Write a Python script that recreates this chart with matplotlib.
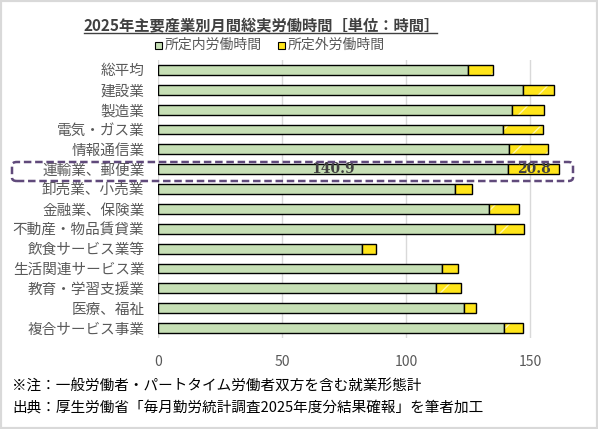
import numpy as np
import matplotlib.pyplot as plt
from matplotlib.patches import FancyBboxPatch, Rectangle
from matplotlib.lines import Line2D

plt.rcParams['font.family'] = ['Noto Sans CJK JP', 'DejaVu Sans']

industries = ['総平均', '建設業', '製造業', '電気・ガス業', '情報通信業',
              '運輸業、郵便業', '卸売業、小売業', '金融業、保険業',
              '不動産・物品賃貸業', '飲食サービス業等', '生活関連サービス業',
              '教育・学習支援業', '医療、福祉', '複合サービス事業']
scheduled = [125.0, 147.2, 142.5, 139.1, 141.5, 140.9, 119.8,
             133.2, 135.9, 82.3, 114.5, 112.1, 123.4, 139.5]
overtime = [10.1, 12.5, 13.1, 16.1, 15.8, 20.8, 6.7,
            12.4, 11.7, 5.3, 6.5, 10.1, 4.8, 7.7]
xticks = [0, 50, 100, 150]

green = '#C6DFB5'
yellow = '#FFE51A'
gray = '#595959'

fig = plt.figure(figsize=(5.98, 4.29), dpi=100)
ax = fig.add_axes([0.2647, 0.2121, 0.705, 0.648])

y = np.arange(len(industries))
h = 0.5
ax.barh(y, scheduled, height=h, color=green, edgecolor='black', linewidth=1, zorder=3)
ax.barh(y, overtime, left=scheduled, height=h, color=yellow, edgecolor='#FFF6A8',
        linewidth=0, hatch='/', zorder=3)
ax.barh(y, overtime, left=scheduled, height=h, fill=False, edgecolor='black',
        linewidth=1, zorder=4)

ax.set_ylim(len(industries) - 0.5, -0.5)
ax.set_xlim(0, 170)
ax.set_xticks(xticks)
ax.set_yticks(y)
ax.set_yticklabels(industries, fontsize=10.5, color=gray)
ax.tick_params(axis='x', labelsize=10, colors=gray, length=0, pad=12)
ax.tick_params(axis='y', length=0, pad=10)
ax.grid(axis='x', color='#D9D9D9', linewidth=1, zorder=0)
for s in ax.spines.values():
    s.set_visible(False)

# highlighted row
k = industries.index('運輸業、郵便業')
ax.text(scheduled[k] / 2, k, f'{scheduled[k]:.1f}', ha='center', va='center',
        fontsize=10, fontweight='bold', color='#404040', family='DejaVu Serif', zorder=5)
ax.text(scheduled[k] + overtime[k] / 2, k, f'{overtime[k]:.1f}', ha='center', va='center',
        fontsize=10, fontweight='bold', color='#404040', family='DejaVu Serif', zorder=5)
box = FancyBboxPatch((12 / 598, 1 - 181 / 429), 561 / 598, 19 / 429,
                     boxstyle='round,pad=0,rounding_size=0.008', transform=fig.transFigure,
                     fill=False, edgecolor='#604A7B', linewidth=1.8, linestyle=(0, (3, 1.5)))
fig.add_artist(box)

# title with underline
fig.text(84 / 598, 1 - 25 / 429, '2025年主要産業別月間総実労働時間［単位：時間］',
         ha='left', va='center', fontsize=11, fontweight='bold', color='#404040')
fig.add_artist(Line2D([84 / 598, 437 / 598], [1 - 33 / 429] * 2, color='#404040', linewidth=1))

# legend
for x0, col, lab in [(155, green, '所定内労働時間'), (278, yellow, '所定外労働時間')]:
    fig.add_artist(Rectangle((x0 / 598, 1 - 49 / 429), 7 / 598, 7 / 429, transform=fig.transFigure,
                             facecolor=col, edgecolor='black', linewidth=0.8))
    fig.text((x0 + 10) / 598, 1 - 45 / 429, lab, ha='left', va='center', fontsize=10, color=gray)

# notes
fig.text(12 / 598, 1 - 386 / 429, '※注：一般労働者・パートタイム労働者双方を含む就業形態計',
         ha='left', va='center', fontsize=10.5, color='black')
fig.text(12 / 598, 1 - 408 / 429, '出典：厚生労働省「毎月勤労統計調査2025年度分結果確報」を筆者加工',
         ha='left', va='center', fontsize=10.5, color='black')

fig.add_artist(Rectangle((0, 0), 1, 1, transform=fig.transFigure, fill=False,
                         edgecolor='#D9D9D9', linewidth=3))

fig.savefig('out.png', dpi=100)
